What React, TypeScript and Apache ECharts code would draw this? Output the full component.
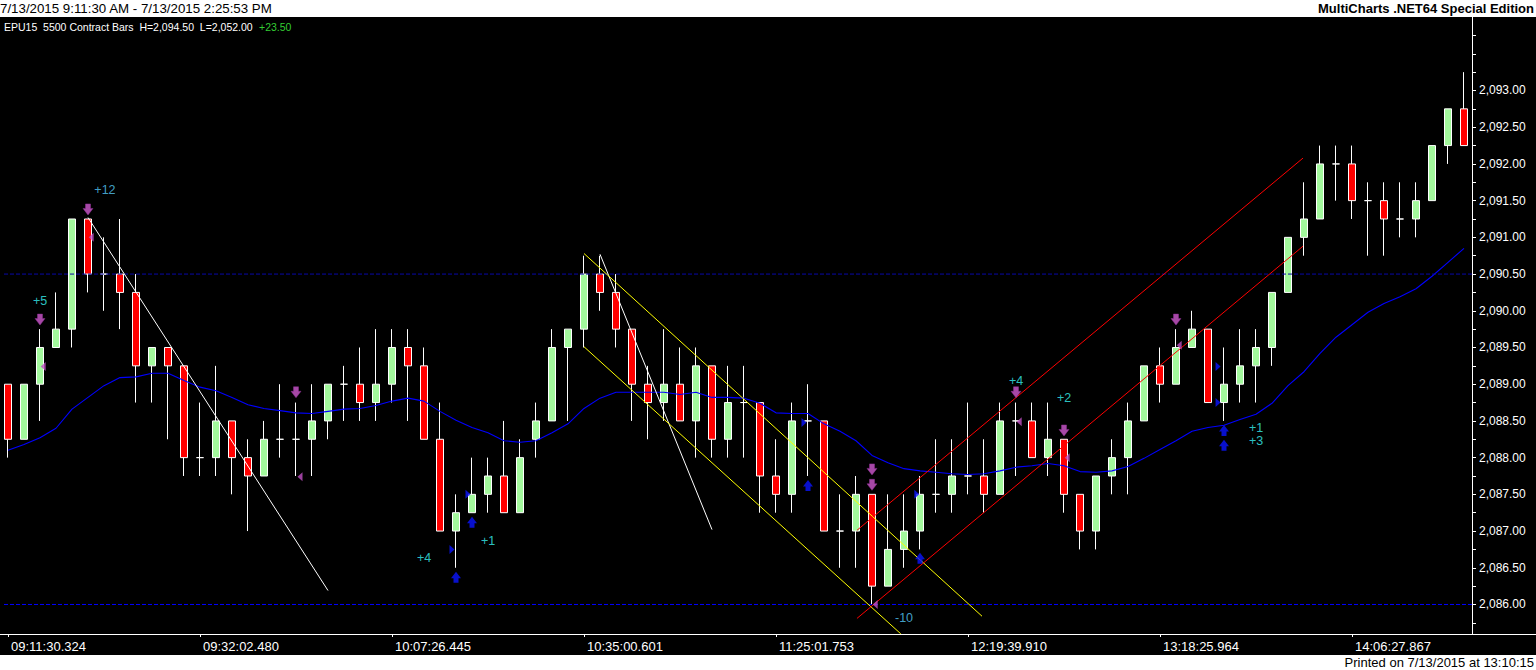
import { useEffect, useRef } from "react";
import * as echarts from "echarts";

// [open, high, low, close] per 5500-contract bar
const bars: [number, number, number, number][] = [
  [2089.0, 2089.0, 2088.0, 2088.25],
  [2088.25, 2089.0, 2088.25, 2089.0],
  [2089.0, 2089.75, 2088.5, 2089.5],
  [2089.5, 2090.25, 2089.5, 2089.75],
  [2089.75, 2091.25, 2089.5, 2091.25],
  [2091.25, 2091.25, 2090.25, 2090.5],
  [2090.5, 2091.0, 2090.0, 2090.5],
  [2090.5, 2091.25, 2089.75, 2090.25],
  [2090.25, 2090.5, 2088.75, 2089.25],
  [2089.25, 2089.5, 2088.75, 2089.5],
  [2089.5, 2089.5, 2088.25, 2089.25],
  [2089.25, 2089.25, 2087.75, 2088.0],
  [2088.0, 2088.75, 2087.75, 2088.0],
  [2088.0, 2089.25, 2087.75, 2088.5],
  [2088.5, 2088.5, 2087.5, 2088.0],
  [2088.0, 2088.25, 2087.0, 2087.75],
  [2087.75, 2088.5, 2087.75, 2088.25],
  [2088.25, 2089.0, 2088.0, 2088.25],
  [2088.25, 2088.75, 2087.75, 2088.25],
  [2088.25, 2089.0, 2087.75, 2088.5],
  [2088.5, 2089.0, 2088.25, 2089.0],
  [2089.0, 2089.25, 2088.5, 2089.0],
  [2089.0, 2089.5, 2088.5, 2088.75],
  [2088.75, 2089.75, 2088.5, 2089.0],
  [2089.0, 2089.75, 2088.75, 2089.5],
  [2089.5, 2089.75, 2088.5, 2089.25],
  [2089.25, 2089.5, 2088.25, 2088.25],
  [2088.25, 2088.75, 2087.0, 2087.0],
  [2087.0, 2087.5, 2086.5, 2087.25],
  [2087.25, 2088.0, 2087.25, 2087.5],
  [2087.5, 2088.0, 2087.25, 2087.75],
  [2087.75, 2088.5, 2087.25, 2087.25],
  [2087.25, 2088.25, 2087.25, 2088.0],
  [2088.25, 2088.75, 2088.0, 2088.5],
  [2088.5, 2089.75, 2088.5, 2089.5],
  [2089.5, 2089.75, 2088.5, 2089.75],
  [2089.75, 2090.75, 2089.5, 2090.5],
  [2090.5, 2090.75, 2090.0, 2090.25],
  [2090.25, 2090.5, 2089.5, 2089.75],
  [2089.75, 2089.75, 2088.5, 2089.0],
  [2089.0, 2089.25, 2088.25, 2088.75],
  [2088.75, 2089.75, 2088.5, 2089.0],
  [2089.0, 2089.5, 2088.5, 2088.5],
  [2088.5, 2089.5, 2088.0, 2089.25],
  [2089.25, 2089.25, 2088.0, 2088.25],
  [2088.25, 2089.25, 2088.0, 2088.75],
  [2088.75, 2089.25, 2088.0, 2088.75],
  [2088.75, 2088.75, 2087.25, 2087.75],
  [2087.75, 2088.25, 2087.25, 2087.5],
  [2087.5, 2088.75, 2087.25, 2088.5],
  [2088.5, 2089.0, 2087.75, 2088.5],
  [2088.5, 2088.5, 2087.0, 2087.0],
  [2087.0, 2087.5, 2086.5, 2087.0],
  [2087.0, 2087.75, 2086.5, 2087.5],
  [2087.5, 2087.5, 2086.0, 2086.25],
  [2086.25, 2087.5, 2086.25, 2086.75],
  [2086.75, 2087.5, 2086.5, 2087.0],
  [2087.0, 2087.75, 2086.75, 2087.5],
  [2087.5, 2088.25, 2087.25, 2087.5],
  [2087.5, 2088.25, 2087.25, 2087.75],
  [2087.75, 2088.75, 2087.5, 2087.75],
  [2087.75, 2088.25, 2087.25, 2087.5],
  [2087.5, 2088.75, 2087.5, 2088.5],
  [2088.5, 2088.75, 2087.75, 2088.5],
  [2088.5, 2088.75, 2088.0, 2088.0],
  [2088.0, 2088.75, 2087.75, 2088.25],
  [2088.25, 2088.25, 2087.25, 2087.5],
  [2087.5, 2087.5, 2086.75, 2087.0],
  [2087.0, 2087.75, 2086.75, 2087.75],
  [2087.75, 2088.25, 2087.5, 2088.0],
  [2088.0, 2088.75, 2087.5, 2088.5],
  [2088.5, 2089.25, 2088.5, 2089.25],
  [2089.25, 2089.5, 2088.75, 2089.0],
  [2089.0, 2089.75, 2089.0, 2089.5],
  [2089.5, 2090.0, 2089.5, 2089.75],
  [2089.75, 2089.75, 2088.75, 2088.75],
  [2088.75, 2089.5, 2088.5, 2089.0],
  [2089.0, 2089.75, 2088.75, 2089.25],
  [2089.25, 2089.75, 2088.75, 2089.5],
  [2089.5, 2090.25, 2089.25, 2090.25],
  [2090.25, 2091.0, 2090.25, 2091.0],
  [2091.0, 2091.75, 2090.75, 2091.25],
  [2091.25, 2092.25, 2091.25, 2092.0],
  [2092.0, 2092.25, 2091.5, 2092.0],
  [2092.0, 2092.25, 2091.25, 2091.5],
  [2091.5, 2091.75, 2090.75, 2091.5],
  [2091.5, 2091.75, 2090.75, 2091.25],
  [2091.25, 2091.75, 2091.0, 2091.25],
  [2091.25, 2091.75, 2091.0, 2091.5],
  [2091.5, 2092.25, 2091.5, 2092.25],
  [2092.25, 2092.75, 2092.0, 2092.75],
  [2092.75, 2093.25, 2092.25, 2092.25],
];

const maValues = [
  2088.1, 2088.18, 2088.27, 2088.4, 2088.66, 2088.82, 2088.98, 2089.09, 2089.1, 2089.15,
  2089.15, 2089.05, 2088.96, 2088.91, 2088.82, 2088.72, 2088.67, 2088.64, 2088.61, 2088.6,
  2088.63, 2088.66, 2088.67, 2088.71, 2088.77, 2088.81, 2088.77, 2088.63, 2088.51, 2088.41,
  2088.34, 2088.23, 2088.21, 2088.23, 2088.34, 2088.46, 2088.67, 2088.81, 2088.89, 2088.89,
  2088.89, 2088.89, 2088.86, 2088.89, 2088.82, 2088.82, 2088.81, 2088.74, 2088.61, 2088.6,
  2088.6, 2088.46, 2088.36, 2088.23, 2088.03, 2087.93, 2087.85, 2087.82, 2087.8, 2087.78,
  2087.77, 2087.78, 2087.82, 2087.87, 2087.89, 2087.92, 2087.89, 2087.81, 2087.8, 2087.82,
  2087.88, 2087.99, 2088.11, 2088.23, 2088.36, 2088.41, 2088.44, 2088.52, 2088.59, 2088.74,
  2088.98, 2089.17, 2089.42, 2089.64, 2089.81, 2089.98, 2090.1, 2090.19, 2090.3, 2090.47,
  2090.66, 2090.85,
];

const timeLabels = [
  "09:11:30.324", "09:32:02.480", "10:07:26.445", "10:35:00.601",
  "11:25:01.753", "12:19:39.910", "13:18:25.964", "14:06:27.867",
];
const barsPerTimeLabel = 12;

const priceLabels = [
  2086, 2086.5, 2087, 2087.5, 2088, 2088.5, 2089, 2089.5,
  2090, 2090.5, 2091, 2091.5, 2092, 2092.5, 2093,
];
const priceTicks = [
  2085.75, 2086, 2086.25, 2086.5, 2086.75, 2087, 2087.25, 2087.5, 2087.75,
  2088, 2088.25, 2088.5, 2088.75, 2089, 2089.25, 2089.5, 2089.75, 2090,
  2090.25, 2090.5, 2090.75, 2091, 2091.25, 2091.5, 2091.75, 2092, 2092.25,
  2092.5, 2092.75, 2093, 2093.25, 2093.5, 2093.75,
];
const priceMin = 2085.598;
const priceMax = 2094.001;

// trend lines: [barIndex, price]
const whiteLineA = [[5, 2091.27], [20, 2086.19]];
const whiteLineB = [[37, 2090.77], [44, 2087.02]];
const yellowUpper = [[36, 2090.78], [60.875, 2085.84]];
const yellowLower = [[36, 2089.51], [55.8, 2085.6]];
const redUpper = [[53.06, 2087.01], [80.94, 2092.08]];
const redLower = [[53.06, 2085.81], [80.94, 2090.88]];
const upperLevel = 2090.5;
const lowerLevel = 2086.0;

// signal markers: [barIndex, price]
const shortArrows = [
  [2, 2089.88], [5, 2091.38], [18, 2088.89], [54, 2087.84], [54, 2087.63],
  [63, 2088.89], [66, 2088.37], [73, 2089.88],
];
const shortEntries = [
  [2.2, 2089.24], [5.2, 2091.0], [18.25, 2087.74], [54.2, 2086.0],
  [63.2, 2088.49], [66.2, 2088.0], [73.2, 2089.53],
];
const longArrows = [
  [28, 2086.37], [29, 2087.12], [50, 2087.62], [57, 2086.63], [76, 2088.37], [76, 2088.17],
];
const longEntries = [
  [27.75, 2086.75], [28.75, 2087.5], [49.75, 2088.48], [56.8, 2087.5],
  [75.63, 2089.24], [75.63, 2088.75],
];
const profitTexts: [number, number, string][] = [
  [6.06, 2091.65, "+12"],
  [2.0, 2090.13, "+5"],
  [26.0, 2086.63, "+4"],
  [30.0, 2086.87, "+1"],
  [56.0, 2085.82, "-10"],
  [63.0, 2089.05, "+4"],
  [66.0, 2088.81, "+2"],
  [78.0, 2088.4, "+1"],
  [78.0, 2088.22, "+3"],
];

const fmtPrice = (v: number) =>
  v.toLocaleString("en-US", { minimumFractionDigits: 2, maximumFractionDigits: 2 });

export default function App() {
  const ref = useRef<HTMLDivElement>(null);

  useEffect(() => {
    document.body.style.margin = "0";
    if (!ref.current) return;
    const chart = echarts.init(ref.current, undefined, { renderer: "svg" });
    const font = "Liberation Sans, Arial, sans-serif";
    const lineSeries = (data: number[][], color: string, z = 3) => ({
      type: "line",
      xAxisIndex: 1,
      data,
      symbol: "none",
      silent: true,
      z,
      lineStyle: { color, width: 1 },
    });
    const levelSeries = (lv: number, color: string) => ({
      type: "line",
      xAxisIndex: 1,
      data: [[-0.25, lv], [bars.length - 0.5, lv]],
      symbol: "none",
      silent: true,
      z: 3,
      lineStyle: { color, width: 1, type: [4, 2] },
    });
    const downArrow = "path://M2.5,0 L7.5,0 L7.5,4.5 L10,4.5 L5,11 L0,4.5 L2.5,4.5 Z";
    const upArrow = "path://M5,0 L10,6.5 L7.5,6.5 L7.5,11 L2.5,11 L2.5,6.5 L0,6.5 Z";
    const leftTri = "path://M5,0 L5,9 L0,4.5 Z";
    const rightTri = "path://M0,0 L5,4.5 L0,9 Z";
    const labelColor = (name: string) => (name === "+12" || name === "-10" ? "#55c8f8" : "#38f4f4");

    chart.setOption({
      animation: false,
      backgroundColor: "#000000",
      grid: { left: 0, right: 64, top: 17, bottom: 36, outerBoundsMode: "none", containLabel: false },
      xAxis: [
        {
          type: "category",
          data: bars.map((_, i) => String(i)),
          boundaryGap: true,
          axisLine: { show: true, onZero: false, lineStyle: { color: "#ffffff", width: 1 } },
          axisTick: {
            show: true,
            alignWithLabel: true,
            interval: (i: number) => i % barsPerTimeLabel === 0,
            length: 3,
            lineStyle: { color: "#ffffff" },
          },
          axisLabel: {
            show: true,
            interval: (i: number) => i % barsPerTimeLabel === 0,
            formatter: (_v: string, i: number) => timeLabels[i / barsPerTimeLabel] ?? "",
            align: "left",
            padding: [0, 0, 0, 3],
            margin: 6,
            color: "#ffffff",
            fontFamily: font,
            fontSize: 13,
          },
          splitLine: { show: false },
        },
        {
          type: "value",
          min: -0.5,
          max: bars.length - 0.5,
          show: false,
          position: "top",
          axisLine: { onZero: false },
        },
      ],
      yAxis: {
        type: "value",
        position: "right",
        min: priceMin,
        max: priceMax,
        scale: true,
        axisLine: { show: true, onZero: false, lineStyle: { color: "#ffffff", width: 1 } },
        axisTick: {
          show: true,
          inside: false,
          length: 4,
          customValues: priceTicks,
          lineStyle: { color: "#ffffff" },
        },
        axisLabel: {
          show: true,
          customValues: priceLabels,
          formatter: (v: number) => fmtPrice(v),
          margin: 7,
          color: "#ffffff",
          fontFamily: font,
          fontSize: 12,
        },
        splitLine: { show: false },
      },
      graphic: [
        { type: "rect", shape: { x: 0, y: 0, width: 1536, height: 17 }, style: { fill: "#ffffff" }, z: 100 },
        { type: "rect", shape: { x: 0, y: 655, width: 1536, height: 15 }, style: { fill: "#ffffff" }, z: 100 },
        {
          type: "text", x: 0, y: 8.5, z: 101,
          style: { text: "7/13/2015 9:11:30 AM - 7/13/2015 2:25:53 PM", fill: "#000000", font: `13.3px ${font}`, verticalAlign: "middle" },
        },
        {
          type: "text", x: 1534, y: 8.5, z: 101,
          style: { text: "MultiCharts .NET64 Special Edition", fill: "#000000", font: `bold 13px ${font}`, align: "right", verticalAlign: "middle" },
        },
        {
          type: "text", x: 4, y: 27, z: 101,
          style: { text: "EPU15  5500 Contract Bars  H=2,094.50  L=2,052.00", fill: "#ffffff", font: `10.5px ${font}`, verticalAlign: "middle" },
        },
        {
          type: "text", x: 259, y: 27, z: 101,
          style: { text: "+23.50", fill: "#33cc33", font: `10.5px ${font}`, verticalAlign: "middle" },
        },
        {
          type: "text", x: 1534, y: 662.5, z: 101,
          style: { text: "Printed on 7/13/2015 at 13:10:15", fill: "#000000", font: `13px ${font}`, align: "right", verticalAlign: "middle" },
        },
        {
          type: "line", z: 101,
          shape: { x1: 1472, y1: 634.5, x2: 1536, y2: 634.5 },
          style: { stroke: "#ffffff", lineWidth: 1 },
        },
      ],
      series: [
        {
          type: "candlestick",
          data: bars.map(([o, h, l, c]) => [o, c, l, h]),
          barWidth: 8,
          z: 2,
          silent: true,
          itemStyle: {
            color: "#a2f89c",
            color0: "#ff0000",
            borderColor: "#ffffff",
            borderColor0: "#ffffff",
            borderColorDoji: "#ffffff",
            borderWidth: 1,
          },
        },
        {
          type: "line",
          data: maValues,
          symbol: "none",
          silent: true,
          z: 3,
          lineStyle: { color: "#0000ff", width: 1.1 },
        },
        levelSeries(upperLevel, "#0808a8"),
        levelSeries(lowerLevel, "#0000ff"),
        lineSeries(whiteLineA, "#ffffff"),
        lineSeries(whiteLineB, "#ffffff"),
        lineSeries(yellowUpper, "#ffff00"),
        lineSeries(yellowLower, "#ffff00"),
        lineSeries(redUpper, "#ff0000"),
        lineSeries(redLower, "#ff0000"),
        {
          type: "scatter", xAxisIndex: 1, data: shortArrows, symbol: downArrow,
          symbolSize: [10, 11], silent: true, z: 5,
          itemStyle: { color: "#d05ad0", borderColor: "#93309a", borderWidth: 0.6 },
        },
        {
          type: "scatter", xAxisIndex: 1, data: shortEntries, symbol: leftTri,
          symbolSize: [5, 9], silent: true, z: 5,
          itemStyle: { color: "#c050c4" },
        },
        {
          type: "scatter", xAxisIndex: 1, data: longArrows, symbol: upArrow,
          symbolSize: [10, 11], silent: true, z: 5,
          itemStyle: { color: "#0a14ff" },
        },
        {
          type: "scatter", xAxisIndex: 1, data: longEntries, symbol: rightTri,
          symbolSize: [5, 9], silent: true, z: 5,
          itemStyle: { color: "#0a14ff" },
        },
        {
          type: "scatter", xAxisIndex: 1,
          data: profitTexts.map(([x, y, t]) => ({
            value: [x, y],
            name: t,
            label: { color: labelColor(t) },
          })),
          symbol: "circle", symbolSize: 1, silent: true, z: 6,
          itemStyle: { color: "rgba(0,0,0,0)" },
          label: {
            show: true,
            position: "inside",
            formatter: (p: any) => p.name,
            fontFamily: font,
            fontSize: 12.5,
          },
          labelLayout: { hideOverlap: false },
        },
      ],
    });

    return () => chart.dispose();
  }, []);

  return (
    <div
      ref={ref}
      style={{ position: "absolute", left: 0, top: 0, width: 1536, height: 670 }}
    />
  );
}
